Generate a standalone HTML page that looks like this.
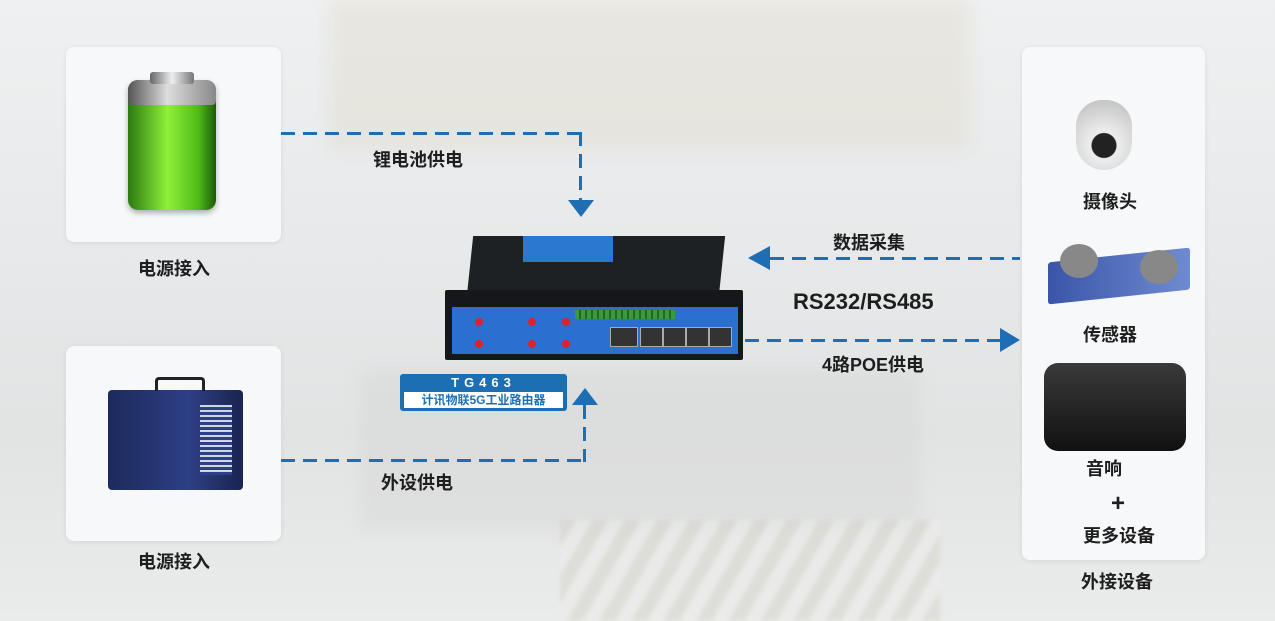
<!DOCTYPE html>
<html><head><meta charset="utf-8"><style>
*{margin:0;padding:0;box-sizing:border-box}
body{width:1275px;height:621px;overflow:hidden;position:relative;font-family:"Liberation Sans","Noto Sans CJK SC",sans-serif;
background:linear-gradient(180deg,#eef0f1 0%,#e7e9ea 40%,#e2e3e3 70%,#eaebeb 100%);color:#222}
.a{position:absolute}
.card{position:absolute;background:rgba(248,249,250,.94);border-radius:8px;box-shadow:0 1px 6px rgba(0,0,0,.08)}
.t{position:absolute;font-size:18px;color:#1e1e1e;white-space:nowrap;font-weight:bold}
.h{position:absolute;height:3px;background:repeating-linear-gradient(90deg,#1f6db3 0 14px,transparent 14px 22px)}
.v{position:absolute;width:3px;background:repeating-linear-gradient(180deg,#1f6db3 0 14px,transparent 14px 22px)}
</style></head><body>
<!-- faint background shapes -->
<div class="a" style="left:330px;top:0;width:640px;height:150px;background:rgba(215,200,170,.22);filter:blur(8px)"></div>
<div class="a" style="left:360px;top:370px;width:560px;height:160px;background:rgba(210,210,210,.35);filter:blur(8px)"></div>
<div class="a" style="left:560px;top:520px;width:380px;height:101px;background:repeating-linear-gradient(120deg,#d6d6cc 0 14px,#ececea 14px 28px);opacity:.55;filter:blur(2px)"></div>

<div class="card" style="left:66px;top:47px;width:215px;height:195px"></div>
<div class="card" style="left:66px;top:346px;width:215px;height:195px"></div>
<div class="card" style="left:1022px;top:47px;width:183px;height:513px"></div>

<!-- battery -->
<div class="a" style="left:128px;top:80px;width:88px;height:130px;border-radius:10px;background:linear-gradient(90deg,#2a7a10,#8ff03a 45%,#4dbb18 80%,#1e5a0a);box-shadow:0 3px 6px rgba(0,0,0,.3)"></div>
<div class="a" style="left:128px;top:80px;width:88px;height:25px;border-radius:10px 10px 4px 4px;background:linear-gradient(90deg,#555,#ddd 45%,#888)"></div>
<div class="a" style="left:150px;top:72px;width:44px;height:12px;border-radius:3px;background:linear-gradient(90deg,#666,#eee,#777)"></div>
<!-- generator -->
<div class="a" style="left:108px;top:390px;width:135px;height:100px;background:linear-gradient(90deg,#1d2a5c,#2d3f85 60%,#1a2450);border-radius:4px"></div>
<div class="a" style="left:200px;top:405px;width:32px;height:70px;background:repeating-linear-gradient(180deg,#cfd4e6 0 2px,#2d3f85 2px 5px)"></div>
<div class="a" style="left:155px;top:377px;width:50px;height:14px;border:3px solid #222;border-bottom:none;border-radius:4px 4px 0 0"></div>

<!-- connectors -->
<div class="h" style="left:281px;top:132px;width:301px"></div>
<div class="v" style="left:579px;top:132px;height:68px"></div>
<div class="a" style="left:568px;top:200px;border-left:13px solid transparent;border-right:13px solid transparent;border-top:17px solid #1f6db3"></div>
<div class="h" style="left:281px;top:459px;width:305px"></div>
<div class="v" style="left:583px;top:405px;height:57px"></div>
<div class="a" style="left:572px;top:388px;border-left:13px solid transparent;border-right:13px solid transparent;border-bottom:17px solid #1f6db3"></div>
<div class="h" style="left:770px;top:257px;width:250px"></div>
<div class="a" style="left:748px;top:246px;border-top:12px solid transparent;border-bottom:12px solid transparent;border-right:22px solid #1f6db3"></div>
<div class="h" style="left:745px;top:339px;width:256px"></div>
<div class="a" style="left:1000px;top:328px;border-top:12px solid transparent;border-bottom:12px solid transparent;border-left:20px solid #1f6db3"></div>

<!-- router -->
<div class="a" style="left:470px;top:236px;width:252px;height:60px;background:#1e2124;transform:skewX(-6deg)"></div>
<div class="a" style="left:445px;top:290px;width:298px;height:70px;background:#15171a;border-radius:2px"></div>
<div class="a" style="left:523px;top:236px;width:90px;height:26px;background:#2a78d0"></div>
<div class="a" style="left:452px;top:307px;width:286px;height:47px;background:#2b6fd0"></div>
<div class="a" style="left:610px;top:327px;width:28px;height:20px;background:#333;border:1px solid #aaa"></div>
<div class="a" style="left:640px;top:327px;width:92px;height:20px;background:repeating-linear-gradient(90deg,#333 0 21px,#aaa 21px 23px);border:1px solid #aaa"></div>
<div class="a" style="left:575px;top:310px;width:100px;height:9px;background:repeating-linear-gradient(90deg,#3a9a3a 0 4px,#1f6a1f 4px 6px)"></div>
<div class="a" style="left:475px;top:318px;width:8px;height:8px;border-radius:50%;background:#e0202a"></div>
<div class="a" style="left:528px;top:318px;width:8px;height:8px;border-radius:50%;background:#e0202a"></div>
<div class="a" style="left:562px;top:318px;width:8px;height:8px;border-radius:50%;background:#e0202a"></div>
<div class="a" style="left:475px;top:340px;width:8px;height:8px;border-radius:50%;background:#e0202a"></div>
<div class="a" style="left:528px;top:340px;width:8px;height:8px;border-radius:50%;background:#e0202a"></div>
<div class="a" style="left:562px;top:340px;width:8px;height:8px;border-radius:50%;background:#e0202a"></div>
<div class="a" style="left:400px;top:374px;width:167px;height:37px;background:#1c6fb3;border-radius:3px"></div>
<div class="a" style="left:400px;top:375px;width:167px;text-align:center;color:#fff;font-weight:bold;font-size:13px;letter-spacing:5px">TG463</div>
<div class="a" style="left:404px;top:392px;width:159px;height:16px;background:#fff;color:#1c6fb3;font-weight:bold;font-size:12px;text-align:center;line-height:16px">计讯物联5G工业路由器</div>

<!-- right icons -->
<div class="a" style="left:1076px;top:100px;width:56px;height:70px;border-radius:28px 28px 30px 30px;background:radial-gradient(circle at 50% 65%,#222 0 12px,#eee 13px,#bbb)"></div>
<div class="a" style="left:1048px;top:255px;width:142px;height:42px;background:linear-gradient(90deg,#3a55a8,#6f8bd0);border-radius:3px;transform:skewY(-6deg)"></div>
<div class="a" style="left:1060px;top:244px;width:38px;height:34px;border-radius:50%;background:#888"></div>
<div class="a" style="left:1140px;top:250px;width:38px;height:34px;border-radius:50%;background:#888"></div>
<div class="a" style="left:1044px;top:363px;width:142px;height:88px;border-radius:14px;background:linear-gradient(180deg,#3a3a3a,#111)"></div>

<div class="t" style="left:373px;top:146px">锂电池供电</div>
<div class="t" style="left:138px;top:255px">电源接入</div>
<div class="t" style="left:381px;top:469px">外设供电</div>
<div class="t" style="left:138px;top:548px">电源接入</div>
<div class="t" style="left:833px;top:229px">数据采集</div>
<div class="t" style="left:793px;top:289px;font-size:22px">RS232/RS485</div>
<div class="t" style="left:822px;top:351px">4路POE供电</div>
<div class="t" style="left:1083px;top:188px">摄像头</div>
<div class="t" style="left:1083px;top:321px">传感器</div>
<div class="t" style="left:1086px;top:455px">音响</div>
<div class="t" style="left:1111px;top:490px;font-size:24px">+</div>
<div class="t" style="left:1083px;top:522px">更多设备</div>
<div class="t" style="left:1081px;top:568px">外接设备</div>
</body></html>
